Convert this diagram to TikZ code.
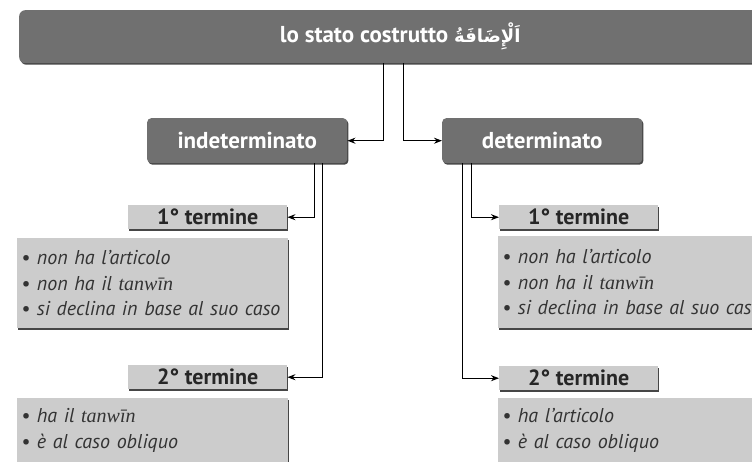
\documentclass[tikz,border=0pt]{standalone}
\usepackage{fontspec}
\setsansfont{PT Sans}
\renewcommand\familydefault{\sfdefault}
\newfontfamily\arabicfont[Script=Arabic]{DejaVu Sans}
\newfontfamily\translit{Liberation Serif}
\TeXXeTstate=1
\usetikzlibrary{arrows.meta,shadows}
\definecolor{darkbox}{RGB}{112,112,112}
\definecolor{lightbox}{RGB}{204,204,204}
\definecolor{shadowc}{RGB}{70,70,70}
\newcommand{\tanw}{{\translit\itshape tanwīn}}
\newcommand{\itm}[1]{\mbox{• #1}}
\tikzset{
  x=1pt, y=-1pt,
  sh/.style={drop shadow={shadow xshift=1.2pt, shadow yshift=-1.5pt, fill=shadowc, opacity=1}},
  titlebar/.style={sh, fill=darkbox, rounded corners=6pt, inner sep=0pt, text=white,
    font=\fontsize{23}{25}\selectfont\bfseries},
  darkhead/.style={sh, fill=darkbox, rounded corners=4pt, inner sep=0pt, text=white,
    minimum width=200pt, minimum height=45pt, font=\fontsize{23}{25}\selectfont\bfseries},
  termbox/.style={sh, fill=lightbox, inner sep=0pt, text=black!85,
    minimum width=159pt, minimum height=24pt, font=\fontsize{22}{24}\selectfont\bfseries},
  contentbox/.style={sh, fill=lightbox, inner xsep=4pt, inner ysep=0pt, align=left,
    text=black!80, font=\fontsize{20}{25.5}\selectfont\itshape},
  conn/.style={line width=1.1pt, -{Stealth[length=8pt,width=6pt]}}
}
\begin{document}
\begin{tikzpicture}
\useasboundingbox (0,0) rectangle (752,461);
\clip (0,0) rectangle (752,461);
\node[titlebar, minimum width=762pt, minimum height=53pt, anchor=north west] (title) at (19,10)
  {lo stato costrutto {\arabicfont\fontsize{18}{20}\selectfont\beginR اَلْإِضَافَةُ\endR}};
\node[darkhead, anchor=north west] (indet) at (147,118) {indeterminato};
\node[darkhead, anchor=north west] (det) at (442,118) {determinato};
\node[termbox, anchor=north west] (L1) at (128,205) {1° termine};
\node[termbox, anchor=north west] (L2) at (128,365) {2° termine};
\node[termbox, anchor=north west] (R1) at (499,205) {1° termine};
\node[termbox, anchor=north west] (R2) at (499,366) {2° termine};
\node[contentbox, anchor=north west, minimum width=271pt, minimum height=90pt, text width=263pt] (LC1) at (17,238)
  {\itm{non ha l’articolo}\\\itm{non ha il \tanw}\\\itm{si declina in base al suo caso}};
\node[contentbox, anchor=north west, minimum width=271pt, minimum height=64pt, text width=263pt] (LC2) at (17,398)
  {\itm{ha il \tanw}\\\itm{è al caso obliquo}};
\node[contentbox, anchor=north west, minimum width=280pt, minimum height=92pt, text width=272pt] (RC1) at (498,236)
  {\itm{non ha l’articolo}\\\itm{non ha il \tanw}\\\itm{si declina in base al suo caso}};
\node[contentbox, anchor=north west, minimum width=280pt, minimum height=64pt, text width=272pt] (RC2) at (498,398)
  {\itm{ha l’articolo}\\\itm{è al caso obliquo}};
\draw[conn] ([xshift=-17pt]title.south) |- (indet.east);
\draw[conn] ([xshift=3pt]title.south) |- (det.west);
\draw[conn] ([xshift=67.5pt]indet.south) |- (L1.east);
\draw[conn] ([xshift=75.5pt]indet.south) |- (L2.east);
\draw[conn] ([xshift=-71pt]det.south) |- (R1.west);
\draw[conn] ([xshift=-80pt]det.south) |- (R2.west);
\end{tikzpicture}
\end{document}
